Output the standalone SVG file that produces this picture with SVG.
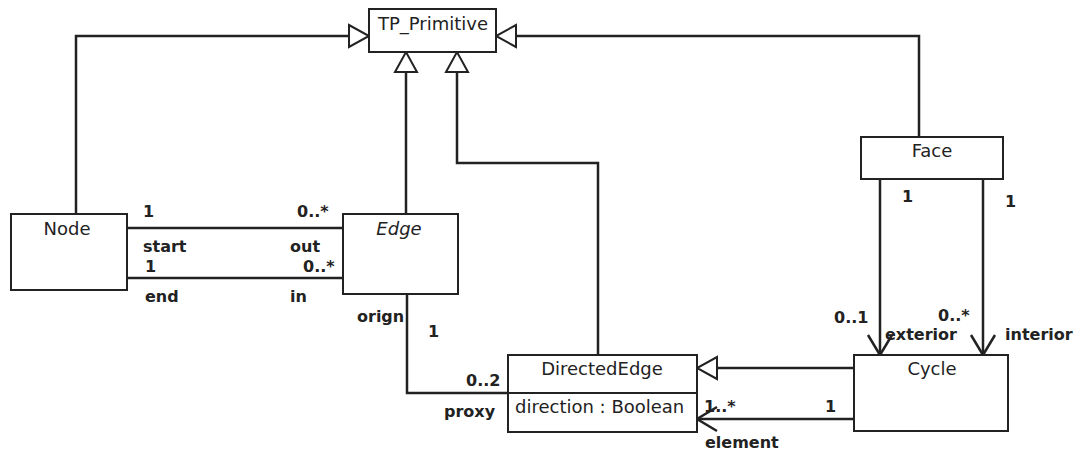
<svg xmlns="http://www.w3.org/2000/svg" width="1078" height="456" viewBox="0 0 1078 456">
<style>
.box{fill:#fff;stroke:#222;stroke-width:2}
.cls{font-family:"DejaVu Sans",sans-serif;font-size:18px;fill:#222;text-anchor:middle}
.attr{font-family:"DejaVu Sans",sans-serif;font-size:18px;fill:#222}
.lbl{font-family:"DejaVu Sans",sans-serif;font-size:16px;font-weight:bold;fill:#222}
.ln{fill:none;stroke:#222;stroke-width:2.5}
</style>
<defs>
<marker id="gen" viewBox="0 0 20 22" markerWidth="20" markerHeight="22" refX="20" refY="11" markerUnits="userSpaceOnUse" orient="auto" overflow="visible">
<path d="M0,0 L20,11 L0,22 Z" fill="#fff" stroke="#222" stroke-width="2"/>
</marker>
<marker id="open" viewBox="0 0 20 24" markerWidth="20" markerHeight="24" refX="20" refY="12" markerUnits="userSpaceOnUse" orient="auto" overflow="visible">
<path d="M0,0 L20,12 L0,24" fill="none" stroke="#222" stroke-width="2.5"/>
</marker>
</defs>
<g id="connectors">
<path class="ln" d="M76,214 V36 H369" marker-end="url(#gen)"/>
<path class="ln" d="M406,214 V52" marker-end="url(#gen)"/>
<path class="ln" d="M598,355 V163 H457 V52" marker-end="url(#gen)"/>
<path class="ln" d="M919,137 V36 H496" marker-end="url(#gen)"/>
<path class="ln" d="M854,368 H697" marker-end="url(#gen)"/>
<path class="ln" d="M127,228 H343"/>
<path class="ln" d="M127,278 H343"/>
<path class="ln" d="M407,294 V393 H508"/>
<path class="ln" d="M854,419 H697" marker-end="url(#open)"/>
<path class="ln" d="M880,179 V355" marker-end="url(#open)"/>
<path class="ln" d="M983,179 V355" marker-end="url(#open)"/>
<text class="lbl" x="143" y="217">1</text>
<text class="lbl" x="297" y="217">0..*</text>
<text class="lbl" x="143" y="252">start</text>
<text class="lbl" x="290" y="252">out</text>
<text class="lbl" x="145" y="272">1</text>
<text class="lbl" x="303" y="272">0..*</text>
<text class="lbl" x="145" y="302">end</text>
<text class="lbl" x="290" y="302">in</text>
<text class="lbl" x="357" y="322">orign</text>
<text class="lbl" x="428" y="337">1</text>
<text class="lbl" x="466" y="386">0..2</text>
<text class="lbl" x="444" y="417">proxy</text>
<text class="lbl" x="704" y="412">1..*</text>
<text class="lbl" x="825" y="412">1</text>
<text class="lbl" x="705" y="448">element</text>
<text class="lbl" x="902" y="202">1</text>
<text class="lbl" x="1005" y="207">1</text>
<text class="lbl" x="834" y="323">0..1</text>
<text class="lbl" x="885" y="340">exterior</text>
<text class="lbl" x="938" y="321">0..*</text>
<text class="lbl" x="1005" y="340">interior</text>
</g>
<g id="TP_Primitive">
<rect class="box" x="369" y="9" width="127" height="43"/>
<text class="cls" x="433" y="30">TP_Primitive</text>
</g>
<g id="Node">
<rect class="box" x="11" y="214" width="116" height="76"/>
<text class="cls" x="67" y="235">Node</text>
</g>
<g id="Edge">
<rect class="box" x="343" y="214" width="115" height="80"/>
<text class="cls" x="399" y="235" font-style="italic">Edge</text>
</g>
<g id="Face">
<rect class="box" x="861" y="137" width="142" height="42"/>
<text class="cls" x="932" y="157">Face</text>
</g>
<g id="DirectedEdge">
<rect class="box" x="508" y="355" width="189" height="77"/>
<line x1="508" y1="393" x2="697" y2="393" stroke="#222" stroke-width="2"/>
<text class="cls" x="602" y="375">DirectedEdge</text>
<text class="attr" x="515" y="413">direction : Boolean</text>
</g>
<g id="Cycle">
<rect class="box" x="854" y="355" width="154" height="76"/>
<text class="cls" x="932" y="375">Cycle</text>
</g>
</svg>
